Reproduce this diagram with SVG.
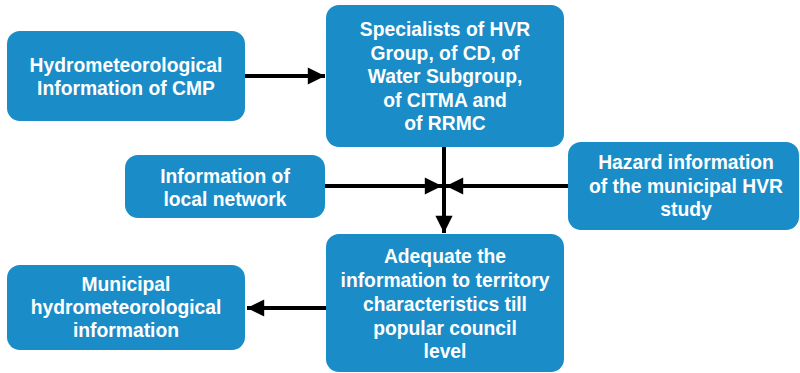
<svg xmlns="http://www.w3.org/2000/svg" width="800" height="373" viewBox="0 0 800 373">
  <style>
    .box { fill: #1a8cc8; }
    .lbl { font-family: "Liberation Sans", Arial, sans-serif; font-weight: bold; font-size: 19.3px; fill: #ffffff; text-anchor: middle; }
    .wire { stroke: #000000; stroke-width: 4; fill: none; }
  </style>
  <defs>
    <marker id="head" viewBox="0 0 10 10" refX="10" refY="5" markerWidth="4.8" markerHeight="4.3" orient="auto" markerUnits="strokeWidth">
      <path d="M0,0 L10,5 L0,10 z" fill="#000000"/>
    </marker>
  </defs>
  <rect width="800" height="373" fill="#ffffff"/>

  <g id="connectors">
    <line class="wire" x1="245" y1="76" x2="325" y2="76" marker-end="url(#head)"/>
    <line class="wire" x1="444" y1="147" x2="444" y2="233" marker-end="url(#head)"/>
    <line class="wire" x1="325" y1="186" x2="442" y2="186" marker-end="url(#head)"/>
    <line class="wire" x1="568" y1="186" x2="446" y2="186" marker-end="url(#head)"/>
    <line class="wire" x1="326" y1="308" x2="247" y2="308" marker-end="url(#head)"/>
  </g>

  <g id="node-cmp">
    <rect class="box" x="7" y="31" width="238" height="90" rx="13"/>
    <text class="lbl" x="126" y="72">Hydrometeorological</text>
    <text class="lbl" x="126" y="95">Information of CMP</text>
  </g>

  <g id="node-specialists">
    <rect class="box" x="326" y="5" width="238" height="142" rx="13"/>
    <text class="lbl" x="445" y="36">Specialists of HVR</text>
    <text class="lbl" x="445" y="60">Group, of CD, of</text>
    <text class="lbl" x="445" y="83">Water Subgroup,</text>
    <text class="lbl" x="445" y="107">of CITMA and</text>
    <text class="lbl" x="445" y="130">of RRMC</text>
  </g>

  <g id="node-local">
    <rect class="box" x="125" y="155" width="200" height="63" rx="13"/>
    <text class="lbl" x="225" y="183">Information of</text>
    <text class="lbl" x="225" y="206">local network</text>
  </g>

  <g id="node-hazard">
    <rect class="box" x="568" y="142" width="231" height="88" rx="13"/>
    <text class="lbl" x="686" y="169">Hazard information</text>
    <text class="lbl" x="686" y="193">of the municipal HVR</text>
    <text class="lbl" x="686" y="216">study</text>
  </g>

  <g id="node-adequate">
    <rect class="box" x="326" y="234" width="238" height="138" rx="13"/>
    <text class="lbl" x="445" y="263">Adequate the</text>
    <text class="lbl" x="445" y="287">information to territory</text>
    <text class="lbl" x="445" y="311">characteristics till</text>
    <text class="lbl" x="445" y="335">popular council</text>
    <text class="lbl" x="445" y="358">level</text>
  </g>

  <g id="node-municipal">
    <rect class="box" x="7" y="265" width="238" height="85" rx="13"/>
    <text class="lbl" x="126" y="291">Municipal</text>
    <text class="lbl" x="126" y="314">hydrometeorological</text>
    <text class="lbl" x="126" y="337">information</text>
  </g>
</svg>
